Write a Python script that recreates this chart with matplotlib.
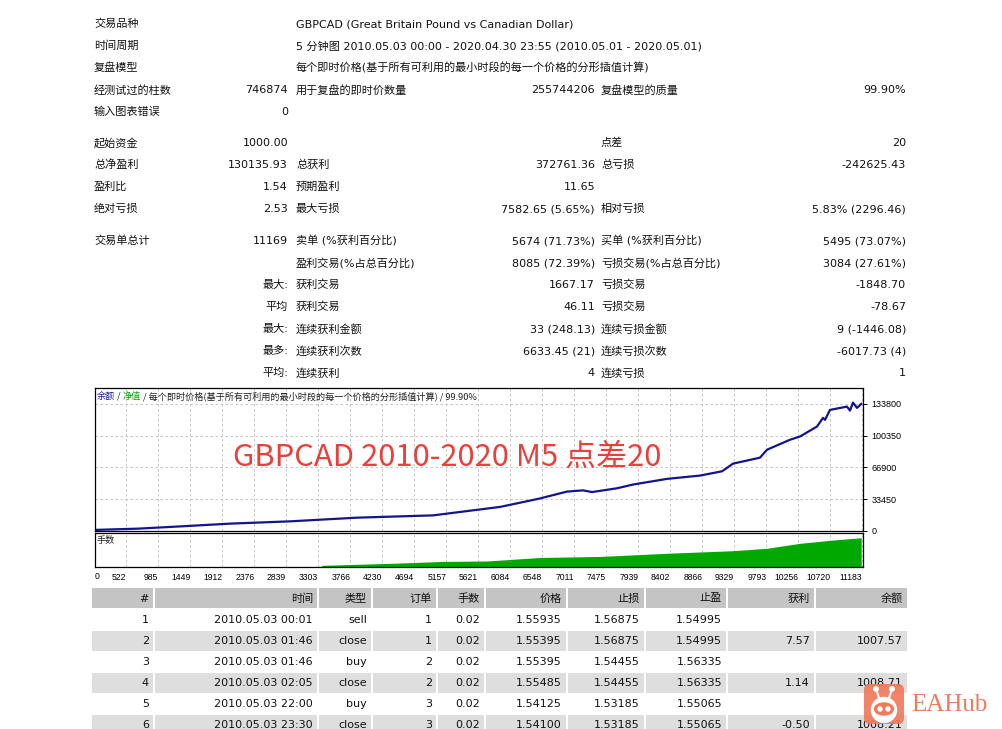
import matplotlib
matplotlib.use('Agg')
import matplotlib.pyplot as plt
from matplotlib.patches import Rectangle, FancyBboxPatch, Circle, Ellipse

W, H = 1003, 729
FONT = ['DejaVu Sans', 'Noto Sans CJK SC']
CJK = ['Noto Sans CJK SC', 'DejaVu Sans']

# --- report summary (label / value pairs, 3 column groups) ---
summary_rows = [
    ('交易品种', '', 'GBPCAD (Great Britain Pound vs Canadian Dollar)', '', '', ''),
    ('时间周期', '', '5 分钟图 2010.05.03 00:00 - 2020.04.30 23:55 (2010.05.01 - 2020.05.01)', '', '', ''),
    ('复盘模型', '', '每个即时价格(基于所有可利用的最小时段的每一个价格的分形插值计算)', '', '', ''),
    ('经测试过的柱数', '746874', '用于复盘的即时价数量', '255744206', '复盘模型的质量', '99.90%'),
    ('输入图表错误', '0', '', '', '', ''),
    ('起始资金', '1000.00', '', '', '点差', '20'),
    ('总净盈利', '130135.93', '总获利', '372761.36', '总亏损', '-242625.43'),
    ('盈利比', '1.54', '预期盈利', '11.65', '', ''),
    ('绝对亏损', '2.53', '最大亏损', '7582.65 (5.65%)', '相对亏损', '5.83% (2296.46)'),
    ('交易单总计', '11169', '卖单 (%获利百分比)', '5674 (71.73%)', '买单 (%获利百分比)', '5495 (73.07%)'),
    ('', '', '盈利交易(%占总百分比)', '8085 (72.39%)', '亏损交易(%占总百分比)', '3084 (27.61%)'),
    ('', '最大:', '获利交易', '1667.17', '亏损交易', '-1848.70'),
    ('', '平均', '获利交易', '46.11', '亏损交易', '-78.67'),
    ('', '最大:', '连续获利金额', '33 (248.13)', '连续亏损金额', '9 (-1446.08)'),
    ('', '最多:', '连续获利次数', '6633.45 (21)', '连续亏损次数', '-6017.73 (4)'),
    ('', '平均:', '连续获利', '4', '连续亏损', '1'),
]
summary_y = [24, 46, 68, 90, 112, 143, 165, 187, 209, 241, 263, 285, 307, 329, 351, 373]

# --- balance curve (trade number, balance) ---
bal_idx = [0, 700, 1403, 2026, 2895, 3865, 4966, 5937, 6500, 6907, 7139, 7270,
           7632, 7864, 8356, 8834, 9153, 9312, 9703, 9805, 10138, 10283, 10529,
           10616, 10645, 10717, 10963, 11007, 11050, 11108, 11169]
bal_val = [1000, 2500, 5240, 7755, 10165, 14040, 16450, 25360, 34000, 41500, 42800, 41000,
           45000, 48940, 54900, 58370, 62880, 70950, 77240, 85620, 96100, 99560, 110040,
           119160, 117060, 127540, 131000, 126800, 135200, 129640, 133830]

# --- lots panel ---
lot_idx = [0, 3330, 3373, 4387, 5111, 5749, 6516, 7385, 8356, 9312, 9805, 10283, 10761, 11169]
lot_val = [0.02, 0.05, 0.15, 0.33, 0.49, 0.53, 0.84, 0.93, 1.21, 1.44, 1.65, 2.09, 2.38, 2.58]

x_ticks = [522, 985, 1449, 1912, 2376, 2839, 3303, 3766, 4230, 4694, 5157, 5621, 6084,
           6548, 7011, 7475, 7939, 8402, 8866, 9329, 9793, 10256, 10720, 11183]
y_ticks = [0, 33450, 66900, 100350, 133800]

# --- trade table ---
table_header = ['#', '时间', '类型', '订单', '手数', '价格', '止损', '止盈', '获利', '余额']
table_rows = [
    ['1', '2010.05.03 00:01', 'sell', '1', '0.02', '1.55935', '1.56875', '1.54995', '', ''],
    ['2', '2010.05.03 01:46', 'close', '1', '0.02', '1.55395', '1.56875', '1.54995', '7.57', '1007.57'],
    ['3', '2010.05.03 01:46', 'buy', '2', '0.02', '1.55395', '1.54455', '1.56335', '', ''],
    ['4', '2010.05.03 02:05', 'close', '2', '0.02', '1.55485', '1.54455', '1.56335', '1.14', '1008.71'],
    ['5', '2010.05.03 22:00', 'buy', '3', '0.02', '1.54125', '1.53185', '1.55065', '', ''],
    ['6', '2010.05.03 23:30', 'close', '3', '0.02', '1.54100', '1.53185', '1.55065', '-0.50', '1008.21'],
]
col_edges = [91, 154, 318, 372, 437, 485, 567, 645, 727, 815, 908]

fig = plt.figure(figsize=(W / 100, H / 100), dpi=100)
fig.patch.set_facecolor('white')
bg = fig.add_axes([0, 0, 1, 1])
bg.set_xlim(0, W)
bg.set_ylim(H, 0)
bg.axis('off')

# summary text
col_x = [(94, 'left'), (288, 'right'), (296, 'left'), (595, 'right'), (601, 'left'), (906, 'right')]
for y, row in zip(summary_y, summary_rows):
    for (x, ha), s in zip(col_x, row):
        if s:
            bg.text(x, y, s, ha=ha, va='center', fontsize=8, family=FONT, color='#111111')

# table
row_top = 588
for j, s in enumerate(table_header):
    x0, x1 = col_edges[j], col_edges[j + 1]
    bg.add_patch(Rectangle((x0 + 1, row_top), x1 - x0 - 2, 20, facecolor='#c4c4c4', lw=0))
    bg.text(x1 - 5, row_top + 10.5, s, ha='right', va='center', fontsize=8, family=FONT, color='#111111')
for i, row in enumerate(table_rows):
    top = 609 + 21 * i
    for j, s in enumerate(row):
        x0, x1 = col_edges[j], col_edges[j + 1]
        if i % 2 == 1:
            bg.add_patch(Rectangle((x0 + 1, top + 1), x1 - x0 - 2, 20, facecolor='#dedede', lw=0))
        if s:
            bg.text(x1 - 5, top + 11, s, ha='right', va='center', fontsize=8, family=FONT, color='#111111')

# watermark logo
LOGO = '#f07a5c'
bg.add_patch(FancyBboxPatch((864, 684), 40, 40, boxstyle='round,pad=0,rounding_size=6',
                            facecolor=LOGO, lw=0, alpha=0.92, zorder=5))
bg.plot([879, 876], [698, 689], color='white', lw=1.5, zorder=6)
bg.plot([889, 892], [698, 689], color='white', lw=1.5, zorder=6)
bg.add_patch(Circle((876, 689), 2.2, color='white', zorder=6))
bg.add_patch(Circle((892, 689), 2.2, color='white', zorder=6))
bg.add_patch(Circle((884, 710), 12.5, color='white', zorder=6))
bg.add_patch(Ellipse((884, 709), 19, 12, color=LOGO, zorder=7))
bg.add_patch(Circle((880, 709), 2.0, color='white', zorder=8))
bg.add_patch(Circle((888, 709), 2.0, color='white', zorder=8))
bg.text(911, 705, 'EAHub', ha='left', va='center', fontsize=18, family='Liberation Serif',
        color=LOGO, zorder=6)

# balance chart
ax = fig.add_axes([95 / W, 1 - 531 / H, 768 / W, 143 / H])
ax.set_axisbelow(True)
ax.plot(bal_idx, bal_val, color='#14148c', lw=1.6)
ax.set_xlim(70, 11195)
ax.set_ylim(0, 150600)
ax.set_xticks(x_ticks)
ax.set_xticklabels([])
ax.set_yticks(y_ticks)
ax.set_yticklabels([str(v) for v in y_ticks], fontsize=6.5, family='Liberation Sans')
ax.yaxis.tick_right()
ax.tick_params(axis='x', length=0)
ax.tick_params(axis='y', length=3, width=0.7, pad=3)
ax.grid(True, color='#bcbcbc', ls=(0, (3, 3)), lw=0.6)
for sp in ax.spines.values():
    sp.set_linewidth(0.9)

# legend line at top-left of chart
parts = [('余额', '#1a1a9a'), (' / ', '#222222'), ('净值', '#10a010'),
         (' / 每个即时价格(基于所有可利用的最小时段的每一个价格的分形插值计算) / 99.90%', '#222222')]
prev = ax.text(2 / 768, 1 - 8 / 143, parts[0][0], transform=ax.transAxes, ha='left', va='center',
               fontsize=6.6, family=CJK, color=parts[0][1])
for s, c in parts[1:]:
    prev = ax.annotate(s, xy=(1, 0.5), xycoords=prev, ha='left', va='center',
                       fontsize=6.6, family=CJK, color=c)

ax.text(138 / 768, 74 / 143, 'GBPCAD 2010-2020 M5 点差20', transform=ax.transAxes,
        ha='left', va='center', fontsize=22.3, family=CJK, color='#e8413c')

# lots panel
lx = fig.add_axes([95 / W, 1 - 567 / H, 768 / W, 34 / H])
lx.set_axisbelow(True)
lx.fill_between(lot_idx, lot_val, color='#00a800', lw=0)
lx.set_xlim(70, 11195)
lx.set_ylim(0, 3.0)
lx.set_yticks([])
lx.set_xticks(x_ticks)
lx.set_xticklabels([str(v) for v in x_ticks], fontsize=6.2, family='Liberation Sans', ha='right')
lx.tick_params(axis='x', length=0, pad=4)
lx.grid(True, axis='x', color='#bcbcbc', ls=(0, (3, 3)), lw=0.6)
for sp in lx.spines.values():
    sp.set_linewidth(0.9)
lx.text(2 / 768, 1 - 8 / 34, '手数', transform=lx.transAxes, ha='left', va='center',
        fontsize=6.6, family=CJK, color='#222222')
lx.text(0, -0.27, '0', transform=lx.transAxes, ha='left', va='center',
        fontsize=6.2, family='Liberation Sans')

fig.savefig('out.png', dpi=100)
